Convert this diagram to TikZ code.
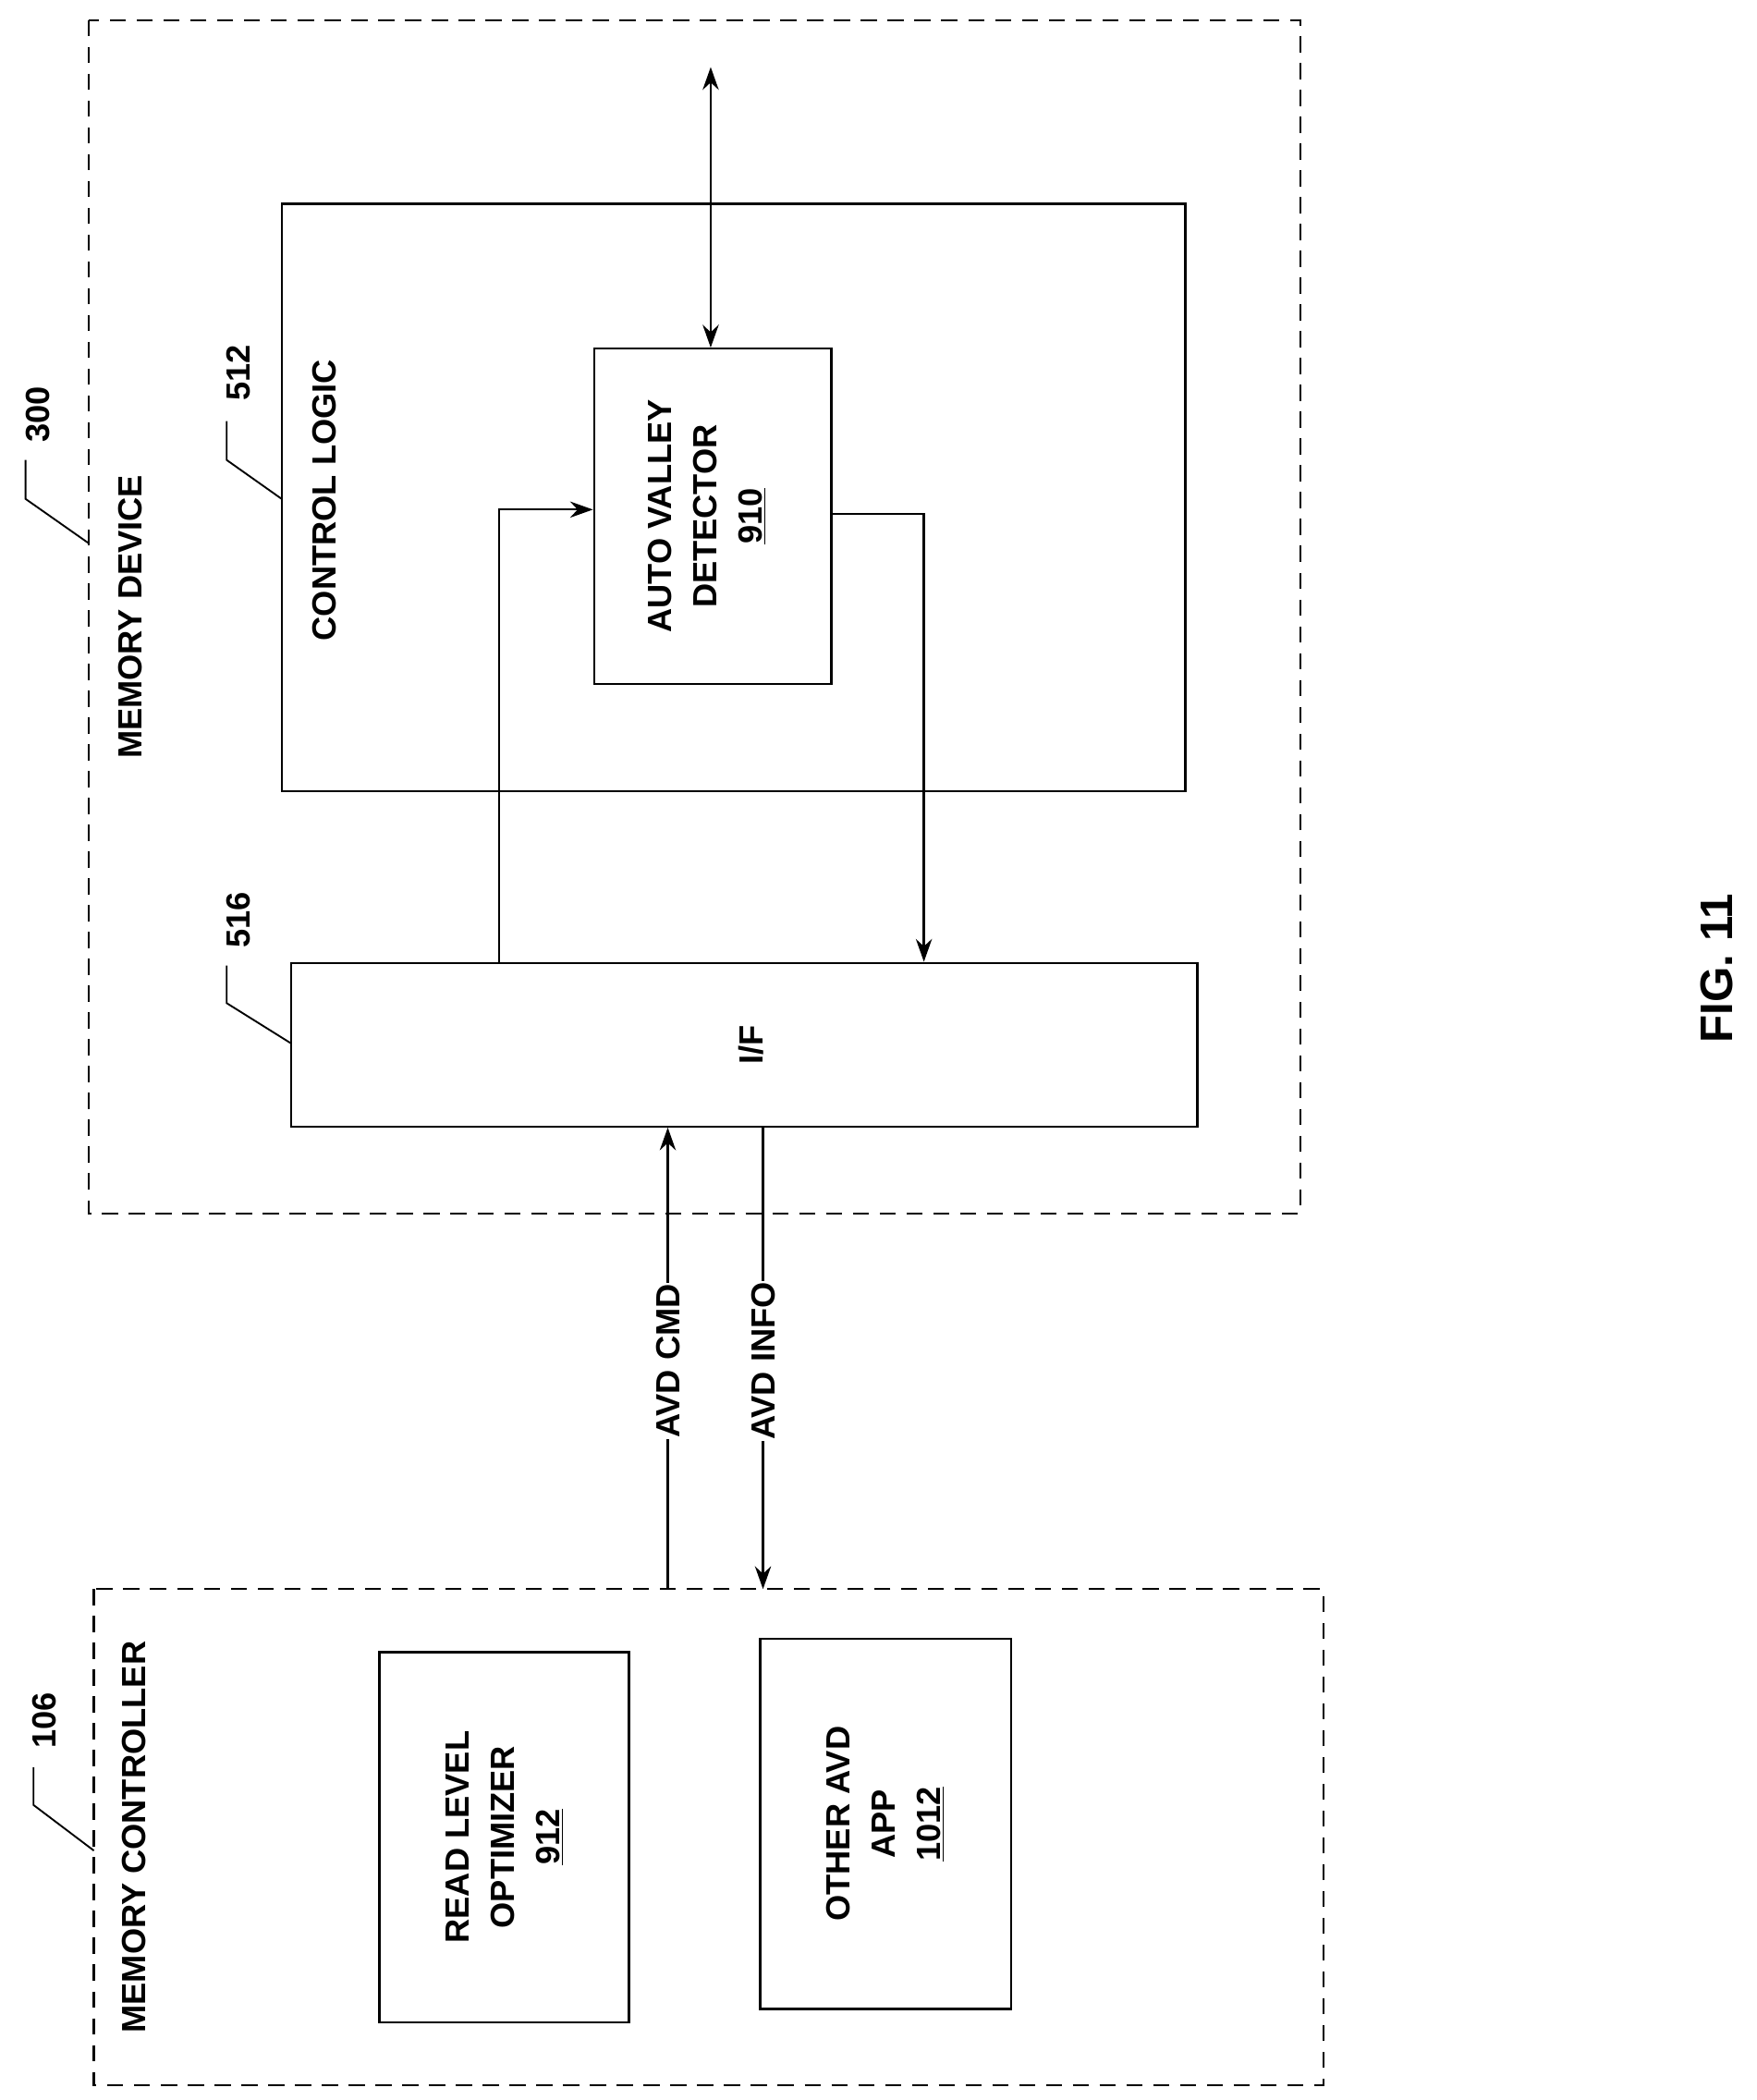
\documentclass[tikz,border=0pt]{standalone}
\usepackage{fontspec}
\setmainfont{Liberation Sans}
\usetikzlibrary{arrows.meta}
\begin{document}
\begin{tikzpicture}[x=1pt,y=-1pt,
  box/.style={draw,line width=1.6pt},
  dbox/.style={draw,line width=1.6pt,dash pattern=on 12pt off 8pt},
  lab/.style={rotate=90,font=\bfseries\fontsize{25}{34}\selectfont,align=center,inner sep=1pt},
  arr/.style={line width=1.6pt,-{Stealth[length=17pt,width=12pt]}},
  lead/.style={line width=1.3pt}]
\useasboundingbox (0,0) rectangle (1310,1566);
\draw[dbox] (66,15) rectangle (970,905);
\draw[box] (210,152) rectangle (884,590);
\node[box,minimum width=177pt,minimum height=250pt,inner sep=0] (avd) at (531.5,385) {};
\node[box,minimum width=676pt,minimum height=122pt,inner sep=0] (if) at (555,779) {};
\draw[dbox] (70,1185) rectangle (987,1555);
\node[box,minimum width=186pt,minimum height=276pt,inner sep=0] (rlo) at (376,1370) {};
\node[box,minimum width=187pt,minimum height=276pt,inner sep=0] (oth) at (660.5,1360) {};
% texts
\node[lab] (md) at (97,460) {MEMORY DEVICE};
\node[lab] (cl) at (242,373) {CONTROL LOGIC};
\node[lab] (avdt) at (527,385) {AUTO VALLEY\\DETECTOR\\\underline{910}};
\node[lab] (ift) at (560,779) {I/F};
\node[lab] (mc) at (100,1370) {MEMORY CONTROLLER};
\node[lab] (rlot) at (376,1370) {READ LEVEL\\OPTIMIZER\\\underline{912}};
\node[lab] (otht) at (660,1360) {OTHER AVD\\APP\\\underline{1012}};
\node[lab,font=\bfseries\fontsize{34}{40}\selectfont] (fig) at (1280,722) {FIG. 11};
\node[lab] (n300) at (28,309) {300};
\node[lab] (n512) at (178,278) {512};
\node[lab] (n516) at (178,686) {516};
\node[lab] (n106) at (33,1283) {106};
% leaders
\coordinate (l300a) at (19,343); \coordinate (l300b) at (19,372); \coordinate (l300c) at (66,405);
\draw[lead] (l300a) -- (l300b) -- (l300c);
\coordinate (l512a) at (169,314); \coordinate (l512b) at (169,343); \coordinate (l512c) at (210,372);
\draw[lead] (l512a) -- (l512b) -- (l512c);
\coordinate (l516a) at (169,720); \coordinate (l516b) at (169,748); \coordinate (l516c) at (217,778);
\draw[lead] (l516a) -- (l516b) -- (l516c);
\coordinate (l106a) at (25,1318); \coordinate (l106b) at (25,1346); \coordinate (l106c) at (70,1380);
\draw[lead] (l106a) -- (l106b) -- (l106c);
% connectors
\coordinate (top) at (530,50);
\draw[line width=1.6pt,{Stealth[length=17pt,width=12pt]}-{Stealth[length=17pt,width=12pt]}] (top) -- (avd.north -| top);
\draw[arr] (if.north -| 372,0) |- (avd.west |- 0,380);
\draw[arr] (avd.east |- 0,383) -| (if.north -| 689,0);
\coordinate (c1) at (498,1185);
\coordinate (c2) at (569,1185);
\draw[arr] (c1) -- (if.south -| c1);
\draw[arr] (if.south -| c2) -- (c2);
\node[lab,fill=white] (cmd) at (498,1015) {AVD CMD};
\node[lab,fill=white] (info) at (569,1015) {AVD INFO};
\end{tikzpicture}
\end{document}
